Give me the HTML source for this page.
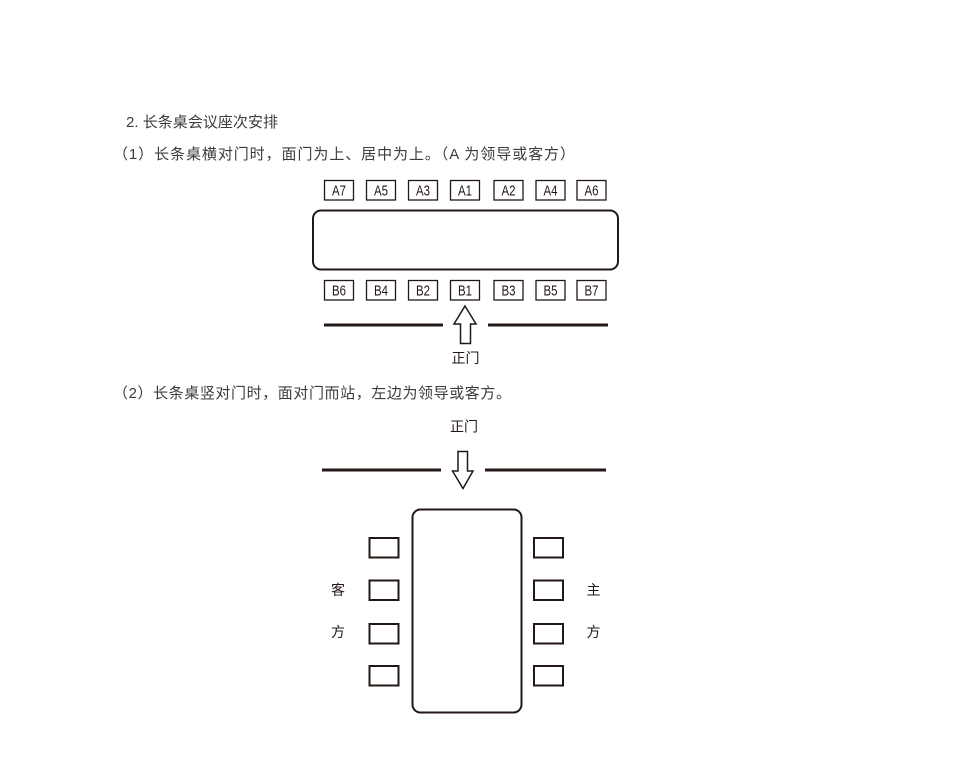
<!DOCTYPE html>
<html>
<head>
<meta charset="utf-8">
<style>
  html,body{margin:0;padding:0;background:#fff;}
  body{width:959px;height:776px;overflow:hidden;}
  svg{display:block;}
  .h{font-family:"Liberation Sans","Noto Sans CJK SC",sans-serif;font-size:15px;fill:#3c3c3c;}
  .lb{font-family:"Liberation Sans Narrow","Liberation Sans",sans-serif;font-size:14.5px;fill:#231815;}
  .cj{font-family:"Liberation Sans","Noto Sans CJK SC",sans-serif;font-size:14px;fill:#231815;}
</style>
</head>
<body>
<svg width="959" height="776" viewBox="0 0 959 776" xmlns="http://www.w3.org/2000/svg">
  <!-- headings -->
  <text class="h" x="126" y="127" textLength="152" lengthAdjust="spacing">2. 长条桌会议座次安排</text>
  <text class="h" x="113" y="159" textLength="462" lengthAdjust="spacing">（1）长条桌横对门时，面门为上、居中为上。（A 为领导或客方）</text>
  <text class="h" x="113" y="398" textLength="398" lengthAdjust="spacing">（2）长条桌竖对门时，面对门而站，左边为领导或客方。</text>

  <!-- Section 1: A row -->
  <g fill="#fff" stroke="#231815" stroke-width="1.3">
    <rect x="324.5" y="180.5" width="29" height="19.5"/>
    <rect x="366.5" y="180.5" width="29" height="19.5"/>
    <rect x="408.5" y="180.5" width="29" height="19.5"/>
    <rect x="450.5" y="180.5" width="29" height="19.5"/>
    <rect x="494" y="180.5" width="29" height="19.5"/>
    <rect x="536" y="180.5" width="29" height="19.5"/>
    <rect x="577" y="180.5" width="29" height="19.5"/>

    <rect x="324.5" y="280.5" width="29" height="19.5"/>
    <rect x="366.5" y="280.5" width="29" height="19.5"/>
    <rect x="408.5" y="280.5" width="29" height="19.5"/>
    <rect x="450.5" y="280.5" width="29" height="19.5"/>
    <rect x="494" y="280.5" width="29" height="19.5"/>
    <rect x="536" y="280.5" width="29" height="19.5"/>
    <rect x="577" y="280.5" width="29" height="19.5"/>
  </g>
  <g class="lb">
    <text x="332" y="195.5" textLength="14" lengthAdjust="spacingAndGlyphs">A7</text>
    <text x="374" y="195.5" textLength="14" lengthAdjust="spacingAndGlyphs">A5</text>
    <text x="416" y="195.5" textLength="14" lengthAdjust="spacingAndGlyphs">A3</text>
    <text x="458" y="195.5" textLength="14" lengthAdjust="spacingAndGlyphs">A1</text>
    <text x="501.5" y="195.5" textLength="14" lengthAdjust="spacingAndGlyphs">A2</text>
    <text x="543.5" y="195.5" textLength="14" lengthAdjust="spacingAndGlyphs">A4</text>
    <text x="584.5" y="195.5" textLength="14" lengthAdjust="spacingAndGlyphs">A6</text>

    <text x="332" y="295.5" textLength="14" lengthAdjust="spacingAndGlyphs">B6</text>
    <text x="374" y="295.5" textLength="14" lengthAdjust="spacingAndGlyphs">B4</text>
    <text x="416" y="295.5" textLength="14" lengthAdjust="spacingAndGlyphs">B2</text>
    <text x="458" y="295.5" textLength="14" lengthAdjust="spacingAndGlyphs">B1</text>
    <text x="501.5" y="295.5" textLength="14" lengthAdjust="spacingAndGlyphs">B3</text>
    <text x="543.5" y="295.5" textLength="14" lengthAdjust="spacingAndGlyphs">B5</text>
    <text x="584.5" y="295.5" textLength="14" lengthAdjust="spacingAndGlyphs">B7</text>
  </g>

  <!-- table 1 -->
  <rect x="313" y="210.5" width="305" height="59" rx="8" ry="8" fill="#fff" stroke="#231815" stroke-width="2"/>

  <!-- door line 1 -->
  <line x1="324" y1="325" x2="443" y2="325" stroke="#231815" stroke-width="3"/>
  <line x1="488" y1="325" x2="608" y2="325" stroke="#231815" stroke-width="3"/>
  <polygon points="465,306 476,324 470.5,324 470.5,343.5 460.5,343.5 460.5,324 454,324" fill="#fff" stroke="#231815" stroke-width="1.5" stroke-linejoin="miter"/>
  <text class="cj" x="465.5" y="363" text-anchor="middle">正门</text>

  <!-- Section 2 -->
  <text class="cj" x="464" y="431.5" text-anchor="middle">正门</text>
  <line x1="322" y1="470" x2="441" y2="470" stroke="#231815" stroke-width="3"/>
  <line x1="485" y1="470" x2="606" y2="470" stroke="#231815" stroke-width="3"/>
  <polygon points="458,451.5 467.5,451.5 467.5,471 473,471 463,488.5 452.5,471 458,471" fill="#fff" stroke="#231815" stroke-width="1.5"/>

  <rect x="412.5" y="509.5" width="109" height="203" rx="8" ry="8" fill="#fff" stroke="#231815" stroke-width="2"/>

  <g fill="#fff" stroke="#231815" stroke-width="2">
    <rect x="369.5" y="538" width="29" height="19.5"/>
    <rect x="369.5" y="580.5" width="29" height="19.5"/>
    <rect x="369.5" y="624" width="29" height="19.5"/>
    <rect x="369.5" y="666" width="29" height="19.5"/>

    <rect x="534" y="538" width="29" height="19.5"/>
    <rect x="534" y="580.5" width="29" height="19.5"/>
    <rect x="534" y="624" width="29" height="19.5"/>
    <rect x="534" y="666" width="29" height="19.5"/>
  </g>

  <g class="cj" text-anchor="middle">
    <text x="338" y="595">客</text>
    <text x="338" y="637">方</text>
    <text x="593.5" y="595">主</text>
    <text x="593.5" y="637">方</text>
  </g>
</svg>
</body>
</html>
